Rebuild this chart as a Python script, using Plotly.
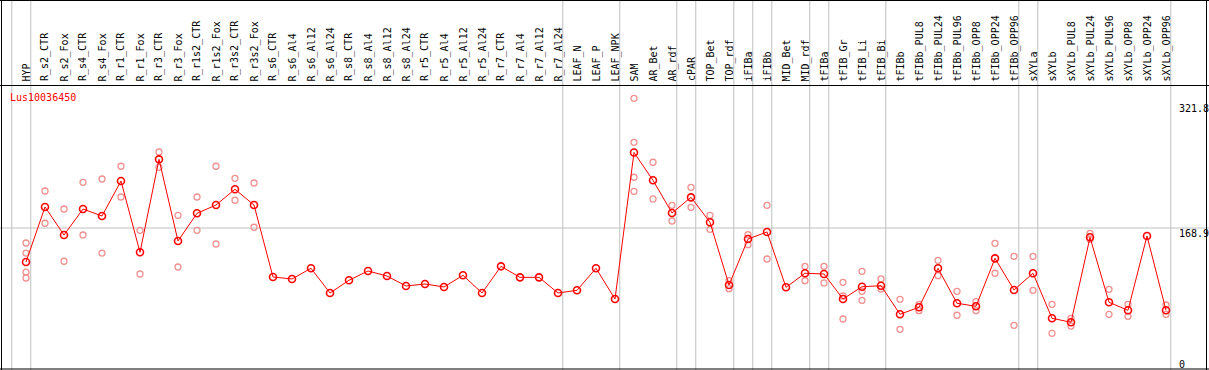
import plotly.graph_objects as go

categories = [
    "HYP", "R_s2_CTR", "R_s2_Fox", "R_s4_CTR", "R_s4_Fox", "R_r1_CTR", "R_r1_Fox",
    "R_r3_CTR", "R_r3_Fox", "R_r1s2_CTR", "R_r1s2_Fox", "R_r3s2_CTR", "R_r3s2_Fox",
    "R_s6_CTR", "R_s6_Al4", "R_s6_Al12", "R_s6_Al24", "R_s8_CTR", "R_s8_Al4",
    "R_s8_Al12", "R_s8_Al24", "R_r5_CTR", "R_r5_Al4", "R_r5_Al12", "R_r5_Al24",
    "R_r7_CTR", "R_r7_Al4", "R_r7_Al12", "R_r7_Al24", "LEAF_N", "LEAF_P", "LEAF_NPK",
    "SAM", "AR_Bet", "AR_rdf", "cPAR", "TOP_Bet", "TOP_rdf", "iFIBa", "iFIBb",
    "MID_Bet", "MID_rdf", "tFIBa", "tFIB_Gr", "tFIB_Li", "tFIB_Bi", "tFIBb",
    "tFIBb_PUL8", "tFIBb_PUL24", "tFIBb_PUL96", "tFIBb_OPP8", "tFIBb_OPP24",
    "tFIBb_OPP96", "sXYLa", "sXYLb", "sXYLb_PUL8", "sXYLb_PUL24", "sXYLb_PUL96",
    "sXYLb_OPP8", "sXYLb_OPP24", "sXYLb_OPP96",
]

mean_values = [
    127.2, 194.7, 160.3, 192.2, 183.6, 226.5, 139.1, 253.1, 153.0, 186.9, 197.1,
    216.4, 197.1, 108.8, 106.4, 119.5, 89.2, 104.8, 116.2, 110.0, 97.8, 100.2,
    96.6, 110.9, 89.2, 121.9, 108.4, 108.4, 89.2, 92.5, 119.5, 81.8,
    261.5, 227.4, 187.3, 206.5, 175.9, 99.0, 155.4, 164.0, 96.2, 113.4, 112.5,
    81.8, 96.9, 98.1, 63.1, 71.7, 119.5, 76.6, 72.9, 131.7, 92.9, 113.4, 58.2,
    53.3, 157.5, 77.8, 68.0, 159.1, 68.0,
]

rep_categories = [
    "HYP", "HYP", "HYP", "HYP",
    "R_s2_CTR", "R_s2_CTR", "R_s2_Fox", "R_s2_Fox", "R_s4_CTR", "R_s4_CTR",
    "R_s4_Fox", "R_s4_Fox", "R_r1_CTR", "R_r1_CTR", "R_r1_Fox", "R_r1_Fox",
    "R_r3_CTR", "R_r3_CTR", "R_r3_Fox", "R_r3_Fox", "R_r1s2_CTR", "R_r1s2_CTR",
    "R_r1s2_Fox", "R_r1s2_Fox", "R_r3s2_CTR", "R_r3s2_CTR", "R_r3s2_Fox", "R_r3s2_Fox",
    "SAM", "SAM", "SAM", "SAM", "AR_Bet", "AR_Bet", "AR_rdf", "AR_rdf",
    "cPAR", "cPAR", "TOP_Bet", "TOP_Bet", "TOP_rdf", "TOP_rdf", "iFIBa", "iFIBa",
    "iFIBb", "iFIBb", "MID_rdf", "MID_rdf", "tFIBa", "tFIBa",
    "tFIB_Gr", "tFIB_Gr", "tFIB_Gr", "tFIB_Li", "tFIB_Li", "tFIB_Li",
    "tFIB_Bi", "tFIB_Bi", "tFIBb", "tFIBb", "tFIBb_PUL8", "tFIBb_PUL8",
    "tFIBb_PUL24", "tFIBb_PUL24", "tFIBb_PUL96", "tFIBb_PUL96", "tFIBb_OPP8", "tFIBb_OPP8",
    "tFIBb_OPP24", "tFIBb_OPP24", "tFIBb_OPP96", "tFIBb_OPP96", "sXYLa", "sXYLa",
    "sXYLb", "sXYLb", "sXYLb_PUL8", "sXYLb_PUL8", "sXYLb_PUL24", "sXYLb_PUL24",
    "sXYLb_PUL96", "sXYLb_PUL96", "sXYLb_OPP8", "sXYLb_OPP8", "sXYLb_OPP96", "sXYLb_OPP96",
]

rep_values = [
    150.5, 138.2, 114.9, 107.6,
    214.3, 174.7, 192.2, 128.1, 224.9, 160.3,
    229.0, 138.2, 244.6, 206.9, 166.1, 112.5,
    262.1, 243.3, 184.5, 121.1, 206.9, 166.1,
    244.6, 149.3, 229.8, 202.9, 224.1, 169.8,
    327.9, 274.0, 231.1, 213.9, 249.5, 204.5, 196.7, 177.5,
    218.8, 194.3, 184.5, 167.3, 104.3, 94.5, 160.7, 148.4,
    196.7, 130.9, 121.9, 104.3, 121.9, 101.5,
    102.3, 57.3, 85.5, 115.8, 91.3, 80.2,
    106.4, 94.1, 81.5, 44.7, 75.3, 67.5,
    129.3, 110.4, 91.3, 61.9, 78.5, 67.5,
    150.1, 113.4, 134.2, 49.6, 134.2, 92.5,
    75.3, 39.8, 58.2, 48.7, 162.4, 155.0,
    93.7, 63.1, 75.3, 60.6, 74.5, 63.1,
]

# categories after which a group separator is drawn
group_ends = ["HYP", "R_r7_Al24", "LEAF_NPK", "AR_rdf", "cPAR", "TOP_rdf", "iFIBa",
              "iFIBb", "MID_rdf", "tFIBa", "tFIB_Bi", "tFIBb_OPP96", "sXYLa", "sXYLb_OPP96"]

axis_values = [321.8, 168.9, 0]
axis_labels = ["321.8", "168.9", "0"]
gene_name = "Lus10036450"

W, H = 1209, 370
FONT = "DejaVu Sans Mono"
GRID = "#c0c0c0"


def px(x):
    return x / W


def py(y):
    return 1 - y / H


fig = go.Figure()
fig.add_trace(go.Scatter(
    x=rep_categories, y=rep_values, mode="markers",
    marker=dict(symbol="circle-open", size=6, color="#f09090", line=dict(width=1.3, color="#f09090")),
    showlegend=False, hoverinfo="skip",
))
fig.add_trace(go.Scatter(
    x=categories, y=mean_values, mode="lines+markers",
    line=dict(color="#ff0000", width=1),
    marker=dict(symbol="circle-open", size=7, color="#ff0000", line=dict(width=1.6, color="#ff0000")),
    showlegend=False,
))

shapes = []
idx = {c: i for i, c in enumerate(categories)}
sep_positions = [-0.75] + [idx[c] + 0.25 for c in group_ends]
for s in sep_positions:
    shapes.append(dict(type="line", xref="x", yref="paper", x0=s, x1=s, y0=0, y1=1,
                       line=dict(color=GRID, width=1), layer="below"))
# horizontal reference line
shapes.append(dict(type="line", xref="paper", yref="y", x0=0, x1=1, y0=axis_values[1], y1=axis_values[1],
                   line=dict(color=GRID, width=1), layer="below"))
# borders and header line
for (x0, y0, x1, y1) in [(0, 0.5, W, 0.5), (1.5, 0, 1.5, H), (1206.5, 0, 1206.5, H),
                         (0, 369, W, 369), (0, 85.5, W, 85.5)]:
    shapes.append(dict(type="line", xref="paper", yref="paper", x0=px(x0), x1=px(x1),
                       y0=py(y0), y1=py(y1), line=dict(color="black", width=1)))

annotations = []
for c in categories:
    annotations.append(dict(x=c, xref="x", y=py(83.5), yref="paper", text=c, textangle=-90,
                            showarrow=False, xanchor="center", yanchor="bottom",
                            font=dict(family=FONT, size=10, color="black")))
annotations.append(dict(x=px(8), xref="paper", y=py(97.5), yref="paper", text=gene_name,
                        showarrow=False, xanchor="left", yanchor="middle",
                        font=dict(family=FONT, size=10, color="#ff0000")))
for v, t in zip(axis_values, axis_labels):
    annotations.append(dict(x=px(1177), xref="paper", y=v, yref="y", text=t, showarrow=False,
                            xanchor="left", yanchor="top", yshift=(9 if v == 0 else 2),
                            font=dict(family=FONT, size=10, color="black")))

fig.update_layout(
    width=W, height=H, margin=dict(l=0, r=0, t=0, b=0),
    paper_bgcolor="white", plot_bgcolor="white",
    xaxis=dict(type="category", categoryorder="array", categoryarray=categories,
               range=[-26 / 19, (W - 26) / 19], visible=False, fixedrange=True),
    yaxis=dict(range=[168.9 - 142 * 1.2262, 168.9 + 228 * 1.2262], visible=False, fixedrange=True),
    shapes=shapes, annotations=annotations,
)

fig.write_html("out.html", config={"displayModeBar": False},
               post_script="document.body.style.margin='0';document.body.style.overflow='hidden';")
